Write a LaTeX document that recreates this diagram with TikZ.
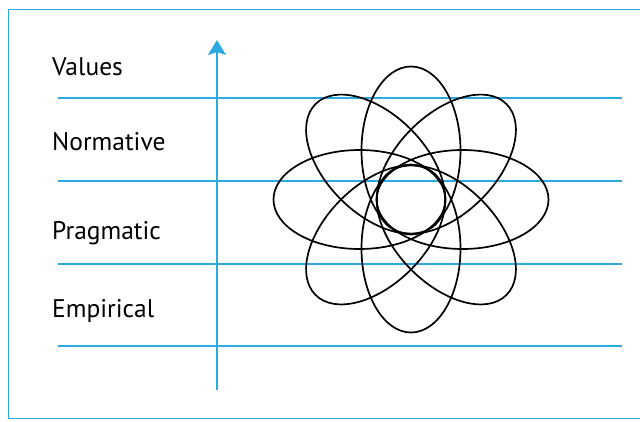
\documentclass[tikz,border=0pt]{standalone}
\usepackage{fontspec}
\setmainfont{PT Sans}
\usetikzlibrary{arrows.meta}
\definecolor{cyanline}{RGB}{41,171,226}
\tikzset{
  frameline/.style={draw=cyanline, line width=1.5pt},
  levelline/.style={draw=cyanline, line width=1.8pt},
  axisline/.style={draw=cyanline, line width=1.8pt, -{Stealth[length=15pt,width=18pt,inset=3pt]}},
  petal/.style={draw=black, line width=1.7pt},
  levellabel/.style={anchor=base west, inner sep=0pt, font=\fontsize{25.5pt}{28pt}\selectfont}
}
\begin{document}
\begin{tikzpicture}[x=1pt,y=-1pt]
\useasboundingbox (0,0) rectangle (640,421);
\fill[white] (0,0) rectangle (640,421);
\clip (0,0) rectangle (640,421);
% frame
\draw[frameline] (660,9.5) -- (8.5,9.5) -- (8.5,418.5) -- (660,418.5);
% level lines
\foreach \y/\n in {98/a,181/b,264/c,346/d}{
  \coordinate (L\n) at (58,\y);
  \coordinate (R\n) at (622,\y);
  \draw[levelline] (L\n) -- (R\n);
}
% axis arrow
\coordinate (axbot) at (217,390);
\coordinate (axtop) at (217,40);
\draw[axisline] (axbot) -- (axtop);
% labels
\node[levellabel] (values) at (52,75.5) {Values};
\node[levellabel] (normative) at (52,150.5) {Normative};
\node[levellabel] (pragmatic) at (52,239.5) {Pragmatic};
\node[levellabel] (empirical) at (52,317.5) {Empirical};
% flower of ellipses
\coordinate (fc) at (411,199.5);
\foreach \a/\d/\r in {0/51.5/86,180/51.5/86,90/49/84,270/49/84,45/50/85,135/50/85,225/50/85,315/50/85}{
  \draw[petal, shift={(fc)}, rotate=\a] (\d,0) ellipse [x radius=\r pt, y radius=49.5pt];
}
\end{tikzpicture}
\end{document}
